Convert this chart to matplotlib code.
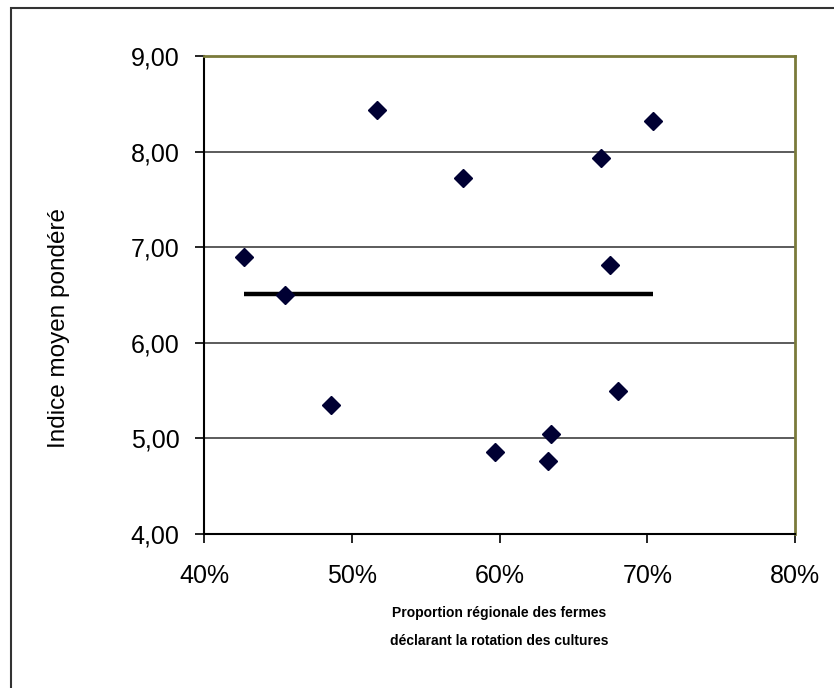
import numpy as np
import matplotlib
matplotlib.use("Agg")
import matplotlib.pyplot as plt
from matplotlib.patches import Rectangle
from matplotlib.ticker import FuncFormatter

# data: share of farms declaring crop rotation (%) vs weighted mean index
rotation_pct = [42.7, 45.5, 48.6, 51.7, 57.5, 59.7, 63.3, 63.5, 66.9, 67.5, 68.0, 70.4]
mean_index = [6.90, 6.50, 5.35, 8.43, 7.72, 4.86, 4.76, 5.05, 7.93, 6.81, 5.50, 8.32]

x_ticks = [40, 50, 60, 70, 80]
y_ticks = [4, 5, 6, 7, 8, 9]

plt.rcParams['font.family'] = ['Liberation Sans', 'DejaVu Sans']

fig = plt.figure(figsize=(8.34, 6.88), dpi=100)
fig.patch.set_facecolor('white')

# outer chart border (only left and top edges are inside the picture)
fig.patches.append(Rectangle((11 / 834, -0.1), 1.2, 1 - 8 / 688 + 0.1,
                             transform=fig.transFigure, fill=False,
                             edgecolor='#333333', linewidth=1.5))

ax = fig.add_axes([204 / 834, 1 - 534 / 688, 591 / 834, 478 / 688])

# horizontal gridlines
for v in y_ticks[1:-1]:
    ax.axhline(v, color='#404040', linewidth=1.2, zorder=1)

# average line spanning the data range
avg = np.mean(mean_index)
ax.plot([min(rotation_pct), max(rotation_pct)], [avg, avg], color='black',
        linewidth=3.2, solid_capstyle='butt', zorder=2)

ax.plot(rotation_pct, mean_index, linestyle='none', marker='D', markersize=9,
        color='#000033', zorder=3)

ax.set_xlim(40, 80)
ax.set_ylim(4, 9)
ax.set_xticks(x_ticks)
ax.set_yticks(y_ticks)
ax.xaxis.set_major_formatter(FuncFormatter(lambda v, p: f"{v:.0f}%"))
ax.yaxis.set_major_formatter(FuncFormatter(lambda v, p: f"{v:.2f}".replace('.', ',')))
ax.tick_params(axis='both', direction='out', length=6.5, width=1.2, labelsize=18,
               colors='black')
ax.tick_params(axis='x', pad=15)
ax.tick_params(axis='y', pad=11)

for side in ['left', 'bottom']:
    ax.spines[side].set_color('black')
    ax.spines[side].set_linewidth(1.5)
for side in ['top', 'right']:
    ax.spines[side].set_color('#7a7a3a')
    ax.spines[side].set_linewidth(2)

fig.text(59 / 834, 1 - 328 / 688, "Indice moyen pondéré", rotation=90,
         ha='center', va='center', fontsize=17.5)
fig.text(499 / 834, 1 - 613 / 688, "Proportion régionale des fermes",
         ha='center', va='center', fontsize=10, fontweight='bold')
fig.text(499 / 834, 1 - 641 / 688, "déclarant la rotation des cultures",
         ha='center', va='center', fontsize=10, fontweight='bold')

fig.savefig("out.png", dpi=100)
